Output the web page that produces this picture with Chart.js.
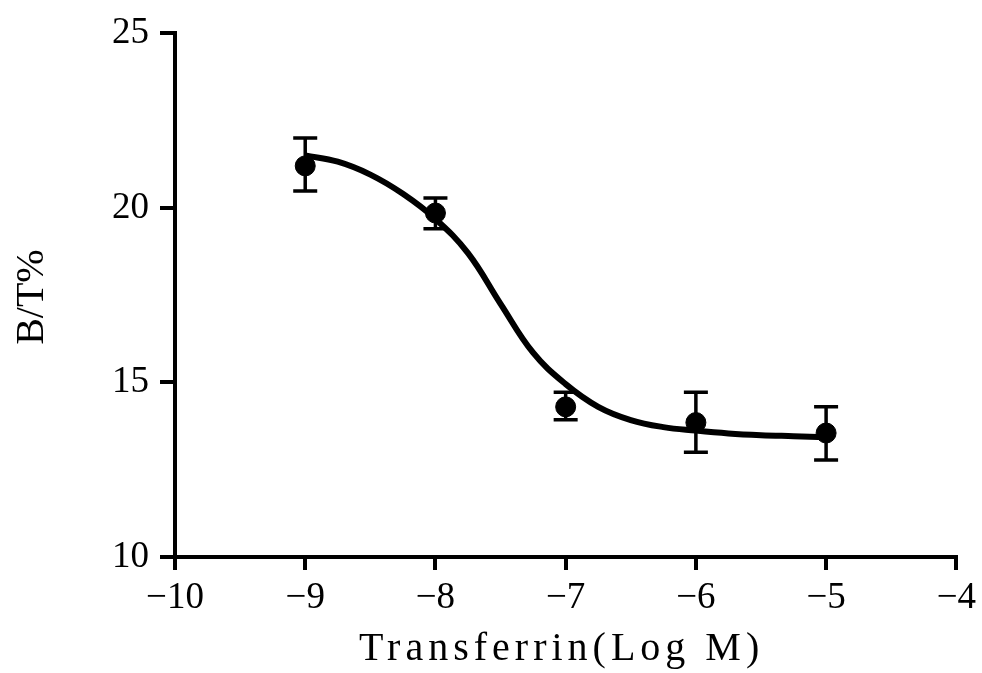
<!DOCTYPE html>
<html>
<head>
<meta charset="utf-8">
<script src="https://cdn.jsdelivr.net/npm/chart.js@4.4.1/dist/chart.umd.min.js"></script>
<style>
  html, body { margin: 0; padding: 0; background: #fff; }
  #wrap { width: 982px; height: 673px; }
</style>
</head>
<body>
<div id="wrap"><canvas id="doseChart" width="982" height="673"></canvas></div>
<script>
// measured points: log concentration, mean B/T%, and error bar ends
var logDose = [-9, -8, -7, -6, -5];
var meanBT = [21.2, 19.85, 14.3, 13.85, 13.55];
var errHigh = [22.0, 20.28, 14.72, 14.72, 14.3];
var errLow = [20.48, 19.4, 13.93, 13.0, 12.78];

// fitted curve as read along its length
var curveX = [-9, -8.75, -8.5, -8.25, -8, -7.75, -7.5, -7.25, -7, -6.75, -6.5, -6.25, -6, -5.75, -5.5, -5.25, -5];
var curveY = [21.5, 21.32, 20.95, 20.4, 19.68, 18.7, 17.25, 15.85, 14.95, 14.3, 13.92, 13.72, 13.62, 13.54, 13.49, 13.46, 13.43];

var xTicks = [-10, -9, -8, -7, -6, -5, -4];
var xTickLabels = ['\u221210', '\u22129', '\u22128', '\u22127', '\u22126', '\u22125', '\u22124'];
var yTicks = [10, 15, 20, 25];
var yTickLabels = ['10', '15', '20', '25'];

var xTitle = 'Transferrin(Log M)';
var yTitle = 'B/T%';

var pointData = logDose.map(function (x, i) { return { x: x, y: meanBT[i] }; });
var curveData = curveX.map(function (x, i) { return { x: x, y: curveY[i] }; });

var serif = "'Liberation Serif', 'DejaVu Serif', serif";

// error bars with caps, placed through the chart's scales
var errorBars = {
    id: 'errorBars',
    afterDatasetsDraw: function (chart) {
        var xs = chart.scales.x, ys = chart.scales.y, ctx = chart.ctx;
        ctx.save();
        ctx.strokeStyle = '#000';
        ctx.lineWidth = 3.5;
        ctx.lineCap = 'butt';
        for (var i = 0; i < logDose.length; i++) {
            var px = xs.getPixelForValue(logDose[i]);
            var top = ys.getPixelForValue(errHigh[i]);
            var bot = ys.getPixelForValue(errLow[i]);
            ctx.beginPath();
            ctx.moveTo(px, top); ctx.lineTo(px, bot);
            ctx.moveTo(px - 12, top); ctx.lineTo(px + 12, top);
            ctx.moveTo(px - 12, bot); ctx.lineTo(px + 12, bot);
            ctx.stroke();
        }
        ctx.restore();
    }
};

// axis titles, spaced out like a fixed-pitch serif face
var axisTitles = {
    id: 'axisTitles',
    afterDraw: function (chart) {
        var ctx = chart.ctx, area = chart.chartArea;
        ctx.save();
        ctx.fillStyle = '#000';
        ctx.font = '40px ' + serif;
        ctx.textAlign = 'center';
        ctx.textBaseline = 'alphabetic';
        ctx.letterSpacing = '5px';
        ctx.fillText(xTitle, (area.left + area.right) / 2 - 4, chart.height - 13);
        ctx.letterSpacing = '0px';
        ctx.translate(43, (area.top + area.bottom) / 2 + 2);
        ctx.rotate(-Math.PI / 2);
        ctx.fillText(yTitle, 0, 0);
        ctx.restore();
    }
};

var ctx = document.getElementById('doseChart').getContext('2d');
var doseChart = new Chart(ctx, {
    type: 'scatter',
    data: {
        datasets: [{
            label: 'fit',
            data: curveData,
            showLine: true,
            borderColor: '#000',
            borderWidth: 6,
            pointRadius: 0,
            tension: 0.4,
            fill: false
        }, {
            label: 'B/T%',
            data: pointData,
            pointRadius: 10,
            pointBackgroundColor: '#000',
            pointBorderColor: '#000',
            showLine: false
        }]
    },
    options: {
        responsive: false,
        animation: false,
        events: [],
        layout: { padding: { top: 32, right: 25, left: 0, bottom: 0 } },
        plugins: {
            legend: { display: false },
            tooltip: { enabled: false }
        },
        scales: {
            x: {
                type: 'linear',
                min: -10,
                max: -4,
                afterBuildTicks: function (scale) {
                    scale.ticks = xTicks.map(function (v) { return { value: v }; });
                },
                afterFit: function (scale) { scale.height = 116; },
                ticks: {
                    color: '#000',
                    font: { family: serif, size: 37 },
                    padding: 6,
                    maxRotation: 0,
                    callback: function (v) { return xTickLabels[xTicks.indexOf(v)]; }
                },
                grid: {
                    drawOnChartArea: false,
                    color: '#000',
                    lineWidth: 4,
                    tickLength: 13
                },
                border: { color: '#000', width: 4 }
            },
            y: {
                min: 10,
                max: 25,
                afterBuildTicks: function (scale) {
                    scale.ticks = yTicks.map(function (v) { return { value: v }; });
                },
                afterFit: function (scale) { scale.width = 175; },
                ticks: {
                    color: '#000',
                    font: { family: serif, size: 37 },
                    padding: 11,
                    callback: function (v) { return yTickLabels[yTicks.indexOf(v)]; }
                },
                grid: {
                    drawOnChartArea: false,
                    color: '#000',
                    lineWidth: 4,
                    tickLength: 15
                },
                border: { color: '#000', width: 4 }
            }
        }
    },
    plugins: [errorBars, axisTitles]
});
</script>
</body>
</html>
